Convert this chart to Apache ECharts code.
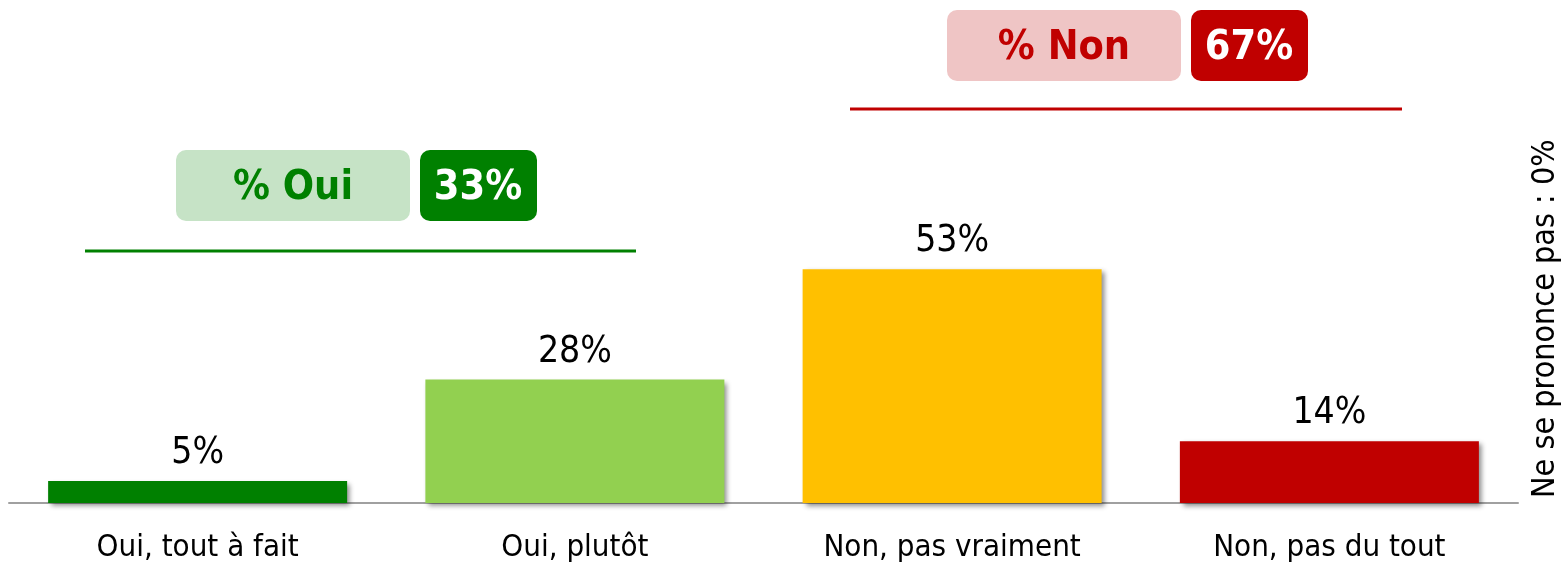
<!DOCTYPE html>
<html>

<head>
    <meta charset="utf-8" />
    <script src="https://cdn.jsdelivr.net/npm/echarts@6/dist/echarts.min.js"></script>
</head>

<body style="margin:0;background:#fff;">
    <div id="main" style="width: 1565px;height:563px;"></div>
    <script type="text/javascript">
        const CATEGORIES = ["Oui, tout à fait", "Oui, plutôt", "Non, pas vraiment", "Non, pas du tout"];
        const VALUES = [5, 28, 53, 14];
        const BAR_COLORS = ["#008000", "#92d050", "#ffc000", "#c00000"];
        const TOTAL_OUI = 33;
        const TOTAL_NON = 67;
        const NSP = 0;

        const FONT = "'DejaVu Sans Condensed', 'DejaVu Sans', sans-serif";

        const myChart = echarts.init(document.getElementById('main'));

        // encadrés "% Oui" / "% Non" au-dessus des groupes de barres
        function summaryBox(x, y, label, total, light, dark) {
            return [
                {
                    type: 'rect', shape: { x: x, y: y, width: 234, height: 71, r: 10 },
                    style: { fill: light }
                },
                {
                    type: 'text', x: x + 117, y: y + 38,
                    style: {
                        text: label, align: 'center', verticalAlign: 'middle',
                        fill: dark, font: 'bold 41px ' + FONT
                    }
                },
                {
                    type: 'rect', shape: { x: x + 244, y: y, width: 117, height: 71, r: 10 },
                    style: { fill: dark }
                },
                {
                    type: 'text', x: x + 244 + 58, y: y + 38,
                    style: {
                        text: total + '%', align: 'center', verticalAlign: 'middle',
                        fill: '#fff', font: 'bold 41px ' + FONT
                    }
                }
            ];
        }

        myChart.setOption({
            animation: false,
            grid: { left: 9, right: 47, top: 62, bottom: 59 },
            xAxis: {
                type: 'category',
                data: CATEGORIES,
                axisLine: { lineStyle: { color: '#a0a0a0', width: 2 } },
                axisTick: { show: false },
                axisLabel: { color: '#000', fontSize: 31, fontFamily: FONT, margin: 29 }
            },
            yAxis: {
                type: 'value', min: 0, max: 100,
                show: false
            },
            series: [{
                type: 'bar',
                barWidth: 299,
                data: VALUES.map((v, i) => ({ value: v, itemStyle: { color: BAR_COLORS[i] } })),
                itemStyle: {
                    shadowColor: 'rgba(0,0,0,0.45)', shadowBlur: 5,
                    shadowOffsetX: 3, shadowOffsetY: 3
                },
                label: {
                    show: true, position: 'top', distance: 9,
                    color: '#000', fontSize: 37, fontFamily: FONT,
                    formatter: p => p.value + '%'
                }
            }],
            graphic: [
                ...summaryBox(176, 150, '% Oui', TOTAL_OUI, '#c6e3c6', '#008000'),
                ...summaryBox(947, 10, '% Non', TOTAL_NON, '#efc5c5', '#c00000'),
                { type: 'line', shape: { x1: 85, y1: 251, x2: 636, y2: 251 }, style: { stroke: '#008000', lineWidth: 3 } },
                { type: 'line', shape: { x1: 850, y1: 109, x2: 1402, y2: 109 }, style: { stroke: '#c00000', lineWidth: 3 } },
                {
                    type: 'text', x: 1546, y: 498, rotation: Math.PI / 2,
                    style: {
                        text: 'Ne se prononce pas : ' + NSP + '%', align: 'left', verticalAlign: 'middle',
                        fill: '#000', font: '32px ' + FONT
                    }
                }
            ]
        });
    </script>
</body>

</html>
